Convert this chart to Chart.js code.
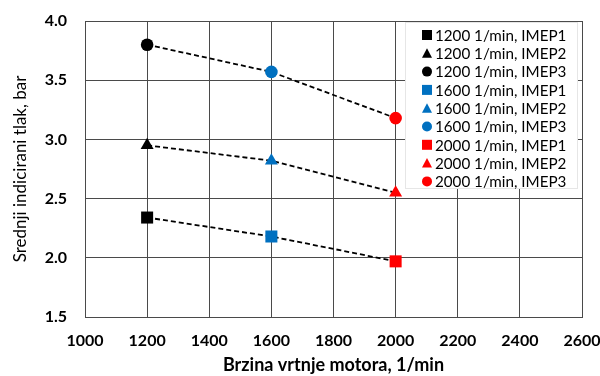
<!DOCTYPE html>
<html>
<head>
<meta charset="utf-8">
<script src="https://cdn.jsdelivr.net/npm/chart.js@4/dist/chart.umd.min.js"></script>
<style>
html,body{margin:0;padding:0;background:#fff;}
#wrap{width:600px;height:376px;position:relative;}
</style>
</head>
<body>
<div id="wrap"><canvas id="c" width="600" height="376"></canvas></div>
<script>
// Data
const speeds = [1200, 1600, 2000];
const imep1 = [2.34, 2.18, 1.97];
const imep2 = [2.95, 2.82, 2.55];
const imep3 = [3.80, 3.57, 3.18];
const xTicks = [1000, 1200, 1400, 1600, 1800, 2000, 2200, 2400, 2600];
const yTicks = [1.5, 2.0, 2.5, 3.0, 3.5, 4.0];
const seriesNames = ['IMEP1', 'IMEP2', 'IMEP3'];
const seriesValues = [imep1, imep2, imep3];

const speedColors = ['#000000', '#0070C0', '#FF0000'];
const markerStyles = ['rect', 'triangle', 'circle'];
const markerRadius = [8.5, 7.5, 6.3];

const datasets = [];
// dashed connecting lines (not in legend)
seriesValues.forEach((vals, si) => {
  datasets.push({
    label: '_line' + si,
    data: speeds.map((s, i) => ({x: s, y: vals[i]})),
    showLine: true,
    borderColor: '#000',
    borderWidth: 1.8,
    borderDash: [5, 3],
    pointRadius: 0,
    fill: false,
    order: 2,
    isLine: true
  });
});
// markers
speeds.forEach((s, ki) => {
  seriesValues.forEach((vals, si) => {
    datasets.push({
      label: s + ' 1/min, ' + seriesNames[si],
      data: [{x: s, y: vals[ki]}],
      showLine: false,
      pointStyle: markerStyles[si],
      pointRadius: markerRadius[si],
      backgroundColor: speedColors[ki],
      borderColor: speedColors[ki],
      borderWidth: 0,
      order: 1
    });
  });
});

const FONT = 'Lato, "Open Sans", sans-serif';

const legendPlugin = {
  id: 'boxLegend',
  afterDatasetsDraw(chart) {
    const ctx = chart.ctx;
    const ca = chart.chartArea;
    const x0 = 405, y0 = ca.top + 1, w = 173, h = 167;
    ctx.save();
    ctx.fillStyle = '#fff';
    ctx.fillRect(x0, y0, w, h);
    ctx.strokeStyle = '#e6e6e6';
    ctx.lineWidth = 1;
    ctx.strokeRect(x0 + 0.5, y0 + 0.5, w - 1, h - 1);
    const items = chart.data.datasets.filter(d => !d.isLine);
    ctx.font = '15.2px ' + FONT;
    ctx.textBaseline = 'middle';
    ctx.textAlign = 'left';
    items.forEach((d, i) => {
      const cy = 35 + i * 18.3;
      const cx = 427;
      ctx.fillStyle = d.backgroundColor;
      ctx.beginPath();
      if (d.pointStyle === 'rect') {
        ctx.fillRect(cx - 5, cy - 5, 10, 10);
      } else if (d.pointStyle === 'triangle') {
        ctx.moveTo(cx, cy - 5);
        ctx.lineTo(cx + 5, cy + 4.5);
        ctx.lineTo(cx - 5, cy + 4.5);
        ctx.closePath();
        ctx.fill();
      } else {
        ctx.arc(cx, cy, 5, 0, Math.PI * 2);
        ctx.fill();
      }
      ctx.fillStyle = '#000';
      ctx.fillText(d.label, 435, cy + 1);
    });
    ctx.restore();
  }
};

new Chart(document.getElementById('c'), {
  type: 'scatter',
  data: {datasets},
  options: {
    responsive: false,
    animation: false,
    events: [],
    layout: {padding: {left: 0, right: 18, top: 21, bottom: 0}},
    plugins: {legend: {display: false}, tooltip: {enabled: false}},
    scales: {
      x: {
        type: 'linear',
        min: xTicks[0], max: xTicks[xTicks.length - 1],
        afterBuildTicks: (s) => { s.ticks = xTicks.map(v => ({value: v})); },
        afterFit: (s) => { s.height = 59; s.paddingLeft = 0; s.paddingRight = 0; },
        grid: {color: '#4a4a4a', lineWidth: 1, drawTicks: false},
        border: {color: '#4a4a4a', width: 1},
        ticks: {color: '#000', padding: 14, maxRotation: 0, autoSkip: false, font: {family: FONT, size: 16, weight: 'bold'}, callback: v => String(v)},
        title: {display: true, text: 'Brzina vrtnje motora, 1/min', color: '#000', font: {family: FONT, size: 18, weight: 'bold'}, padding: {top: 0, bottom: 0}}
      },
      y: {
        type: 'linear',
        min: yTicks[0], max: yTicks[yTicks.length - 1],
        afterBuildTicks: (s) => { s.ticks = yTicks.map(v => ({value: v})); },
        afterFit: (s) => { s.width = 85; s.paddingTop = 0; s.paddingBottom = 0; },
        grid: {color: '#4a4a4a', lineWidth: 1, drawTicks: false},
        border: {color: '#4a4a4a', width: 1},
        ticks: {color: '#000', padding: 18, font: {family: FONT, size: 16, weight: 'bold'}, callback: v => v.toFixed(1)},
        title: {display: true, text: 'Srednji indicirani tlak, bar', color: '#000', font: {family: FONT, size: 17}, padding: {top: 10, bottom: 0}}
      }
    }
  },
  plugins: [legendPlugin]
});
</script>
</body>
</html>
